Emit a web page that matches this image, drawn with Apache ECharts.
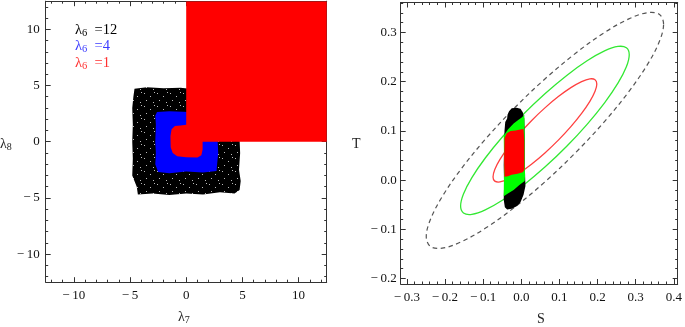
<!DOCTYPE html>
<html><head><meta charset="utf-8">
<script src="https://cdn.jsdelivr.net/npm/echarts@6/dist/echarts.min.js"></script>
<style>html,body{margin:0;padding:0;background:#fff}#c{width:685px;height:327px}</style>
</head><body><div id="c"></div>
<script>
// ---------- Left panel: allowed regions in (lambda7, lambda8) ----------
const leftXTicks = [-10, -5, 0, 5, 10];
const leftYTicks = [-10, -5, 0, 5, 10];
// lambda6 = 12 region (black)
const regionL12 = [[-4.6,4.7],[-3.5,4.85],[-2.0,4.75],[-0.5,4.8],[0.3,4.7],[4.7,4.7],[4.75,0.2],[4.8,-1.0],[4.7,-2.5],[4.85,-3.5],[4.75,-4.3],[4.3,-4.6],[3.0,-4.5],[1.5,-4.7],[0,-4.6],[-1.5,-4.75],[-3.0,-4.6],[-4.3,-4.7],[-4.4,-4.0],[-4.8,-3.0],[-4.75,-1.5],[-4.8,0],[-4.75,1.5],[-4.8,3.0],[-4.7,4.0]];
// lambda6 = 4 region (blue)
const regionL4 = [[-2.6,2.65],[-1.5,2.7],[0.3,2.65],[2.8,0.3],[2.8,0],[2.85,-1.0],[2.75,-2.0],[2.7,-2.6],[1.5,-2.75],[0,-2.65],[-1.5,-2.8],[-2.5,-2.7],[-2.75,-2.0],[-2.7,-1.0],[-2.75,0],[-2.7,1.5],[-2.75,2.3]];
// lambda6 = 1 region (red)
const regionL1 = [[0,13],[13,13],[13,0],[1.46,0],[1.46,-0.7],[1.35,-1.2],[1.0,-1.4],[0,-1.38],[-0.8,-1.3],[-1.2,-1.0],[-1.38,-0.5],[-1.4,0.5],[-1.3,1.1],[-1.0,1.4],[-0.5,1.45],[0,1.5]];

// ---------- Right panel: S-T plane ----------
const rightXTicks = [-0.3, -0.2, -0.1, 0.0, 0.1, 0.2, 0.3, 0.4];
const rightYTicks = [-0.2, -0.1, 0.0, 0.1, 0.2, 0.3];
// 68% (red), 95% (green), 99% (dashed) contours
const contourRed = [[0.198,0.1955],[0.1934,0.2041],[0.1798,0.2057],[0.1582,0.2002],[0.130,0.1879],[0.0972,0.1697],[0.062,0.1468],[0.0268,0.1208],[-0.006,0.0934],[-0.0342,0.0665],[-0.0558,0.0421],[-0.0694,0.0216],[-0.074,0.0065],[-0.0694,-0.0021],[-0.0558,-0.0037],[-0.0342,0.0018],[-0.006,0.0141],[0.0268,0.0323],[0.062,0.0552],[0.0972,0.0812],[0.130,0.1086],[0.1582,0.1355],[0.1798,0.1599],[0.1934,0.1804]];
const contourGreen = [[0.283,0.2549],[0.2755,0.2689],[0.2534,0.2716],[0.2183,0.2625],[0.1725,0.2425],[0.1192,0.2128],[0.062,0.1755],[0.0048,0.1332],[-0.0485,0.0886],[-0.0943,0.0449],[-0.1294,0.005],[-0.1515,-0.0284],[-0.159,-0.0529],[-0.1515,-0.0669],[-0.1294,-0.0696],[-0.0943,-0.0605],[-0.0485,-0.0405],[0.0048,-0.0108],[0.062,0.0265],[0.1192,0.0688],[0.1725,0.1134],[0.2183,0.1571],[0.2534,0.197],[0.2755,0.2304]];
const contourDashed = [[0.373,0.317],[0.3624,0.3367],[0.3313,0.3404],[0.2819,0.3277],[0.2175,0.2996],[0.1425,0.2579],[0.062,0.2056],[-0.0185,0.1461],[-0.0935,0.0836],[-0.1579,0.0222],[-0.2073,-0.0337],[-0.2384,-0.0806],[-0.249,-0.115],[-0.2384,-0.1347],[-0.2073,-0.1384],[-0.1579,-0.1257],[-0.0935,-0.0976],[-0.0185,-0.0559],[0.062,-0.0036],[0.1425,0.0559],[0.2175,0.1184],[0.2819,0.1798],[0.3313,0.2357],[0.3624,0.2826]];
// scan-point bands
const bandBlack = [[-0.032,0.140],[-0.025,0.146],[-0.012,0.147],[-0.002,0.145],[0.004,0.138],[0.008,0.125],[0.009,0.09],[0.009,0.05],[0.010,0.01],[0.011,-0.012],[0.006,-0.030],[-0.002,-0.045],[-0.012,-0.053],[-0.025,-0.058],[-0.037,-0.060],[-0.043,-0.055],[-0.046,-0.040],[-0.045,-0.01],[-0.046,0.03],[-0.045,0.07],[-0.044,0.10],[-0.042,0.118],[-0.037,0.125],[-0.036,0.133]];
const bandGreen = [[-0.046,0.090],[-0.035,0.103],[-0.02,0.115],[-0.008,0.122],[0.002,0.128],[0.008,0.133],[0.009,0.09],[0.009,0.05],[0.010,0.01],[0.009,-0.002],[-0.005,-0.010],[-0.02,-0.02],[-0.035,-0.027],[-0.046,-0.033],[-0.045,0.03]];
const bandRed = [[-0.044,0.085],[-0.038,0.095],[-0.028,0.100],[-0.015,0.101],[-0.003,0.103],[0.006,0.104],[0.008,0.08],[0.008,0.05],[0.008,0.02],[0.004,0.016],[-0.01,0.013],[-0.025,0.011],[-0.035,0.008],[-0.044,0.007],[-0.045,0.04]];

const legendItems = [['12', '#000000'], ['4', '#3a3aff'], ['1', '#ff3030']];

// ---------- helpers ----------
const FONT = 'Liberation Serif';
const AX = '#333';
function range(a, b, step) { const out = []; for (let v = a; v <= b + 1e-9; v += step) out.push(+v.toFixed(4)); return out; }
const leftMinor = range(-12, 12, 1);
const rightXMinor = range(-0.30, 0.40, 0.02);
const rightYMinor = range(-0.20, 0.36, 0.02);

function fmtInt(v) { return v < 0 ? '\u2212\u2009' + Math.abs(v) : String(v); }
function fmtDec(v) { return v < 0 ? '\u2212\u2009' + Math.abs(v).toFixed(1) : v.toFixed(1); }

function axis(gi, pos, min, max, vals, major, labels, fmt, margin) {
  return {
    type: 'value', gridIndex: gi, position: pos, min: min, max: max,
    axisLine: { show: major, onZero: false, lineStyle: { color: AX, width: 1 } },
    axisTick: { show: true, inside: true, length: major ? 5 : 2.5, customValues: vals, lineStyle: { color: AX, width: 1 } },
    axisLabel: labels ? { show: true, customValues: vals, formatter: fmt, fontFamily: FONT, fontSize: 13, color: '#111', margin: margin } : { show: false },
    splitLine: { show: false }
  };
}

const xAxes = [
  axis(0, 'bottom', -12.5, 12.5, leftXTicks, true, true, fmtInt, 7),
  axis(0, 'bottom', -12.5, 12.5, leftMinor, false, false),
  axis(0, 'top', -12.5, 12.5, leftXTicks, true, false),
  axis(0, 'top', -12.5, 12.5, leftMinor, false, false),
  axis(1, 'bottom', -0.316, 0.41, rightXTicks, true, true, fmtDec, 7),
  axis(1, 'bottom', -0.316, 0.41, rightXMinor, false, false),
  axis(1, 'top', -0.316, 0.41, rightXTicks, true, false),
  axis(1, 'top', -0.316, 0.41, rightXMinor, false, false)
];
const yAxes = [
  axis(0, 'left', -12.5, 12.5, leftYTicks, true, true, fmtInt, 6),
  axis(0, 'left', -12.5, 12.5, leftMinor, false, false),
  axis(0, 'right', -12.5, 12.5, leftYTicks, true, false),
  axis(0, 'right', -12.5, 12.5, leftMinor, false, false),
  axis(1, 'left', -0.2112, 0.361, rightYTicks, true, true, fmtDec, 4),
  axis(1, 'left', -0.2112, 0.361, rightYMinor, false, false),
  axis(1, 'right', -0.2112, 0.361, rightYTicks, true, false),
  axis(1, 'right', -0.2112, 0.361, rightYMinor, false, false)
];

// speckled fill for the black scan region
const pat = document.createElement('canvas');
pat.width = 13; pat.height = 13;
(function () {
  const g = pat.getContext('2d');
  g.fillStyle = '#000'; g.fillRect(0, 0, 13, 13);
  g.fillStyle = '#bbb';
  [[1,2],[7,5],[3,9],[10,11],[11,1]].forEach(p => g.fillRect(p[0], p[1], 1, 1));
})();

function poly(name, pts, ai, style, z, smooth) {
  return {
    type: 'custom', name: name, xAxisIndex: ai, yAxisIndex: ai, z: z, clip: true,
    silent: true, animation: false, data: pts,
    renderItem: function (params, api) {
      if (params.dataIndex !== 0) return null;
      const cs = params.coordSys;
      return {
        type: 'polygon',
        shape: { points: pts.map(p => api.coord(p)), smooth: smooth || 0 },
        style: style,
        clipPath: { type: 'rect', shape: { x: cs.x, y: cs.y, width: cs.width, height: cs.height } }
      };
    }
  };
}

const series = [
  poly('λ6=12', regionL12, 0, { fill: { image: pat, repeat: 'repeat' }, stroke: null }, 2),
  poly('λ6=4', regionL4, 0, { fill: '#0000ff', stroke: null }, 3),
  poly('λ6=1', regionL1, 0, { fill: '#ff0000', stroke: null }, 4),
  poly('99%', contourDashed, 4, { fill: 'none', stroke: '#555', lineWidth: 1.2, lineDash: [4.5, 3.5] }, 2, 0.35),
  poly('95%', contourGreen, 4, { fill: 'none', stroke: '#33e833', lineWidth: 1.3 }, 2, 0.35),
  poly('68%', contourRed, 4, { fill: 'none', stroke: '#ff4040', lineWidth: 1.3 }, 2, 0.35),
  poly('scan black', bandBlack, 4, { fill: '#000', stroke: null }, 5),
  poly('scan green', bandGreen, 4, { fill: '#00ff00', stroke: null }, 6),
  poly('scan red', bandRed, 4, { fill: '#ff0000', stroke: null }, 7)
];

function richFor(color, size) {
  return {
    a: { fontFamily: FONT, fontSize: size, fill: color, lineHeight: size + 2 },
    b: { fontFamily: FONT, fontSize: size - 4, fill: color, lineHeight: size - 5, verticalAlign: 'bottom' }
  };
}
const graphics = [
  { type: 'text', left: 178, top: 310, style: { text: '{a|λ}{b|7}', rich: richFor('#222', 14) } },
  { type: 'text', left: 0, top: 137, style: { text: '{a|λ}{b|8}', rich: richFor('#222', 14) } },
  { type: 'text', left: 352, top: 137, style: { text: 'T', fontFamily: FONT, fontSize: 14, fill: '#222' } },
  { type: 'text', left: 537, top: 312, style: { text: 'S', fontFamily: FONT, fontSize: 14, fill: '#222' } }
];
legendItems.forEach(function (it, i) {
  graphics.push({ type: 'text', left: 75, top: 22.5 + i * 16.5, style: { text: '{a|λ}{b|6}{a|  =' + it[0] + '}', rich: richFor(it[1], 14.5) } });
});

const chart = echarts.init(document.getElementById('c'), null, { renderer: 'canvas' });
chart.setOption({
  animation: false,
  grid: [
    { left: 45.7, top: 1.2, width: 281, height: 281 },
    { left: 400.7, top: 2.5, width: 279.5, height: 281.5 }
  ],
  xAxis: xAxes, yAxis: yAxes, series: series, graphic: graphics
});
</script></body></html>
